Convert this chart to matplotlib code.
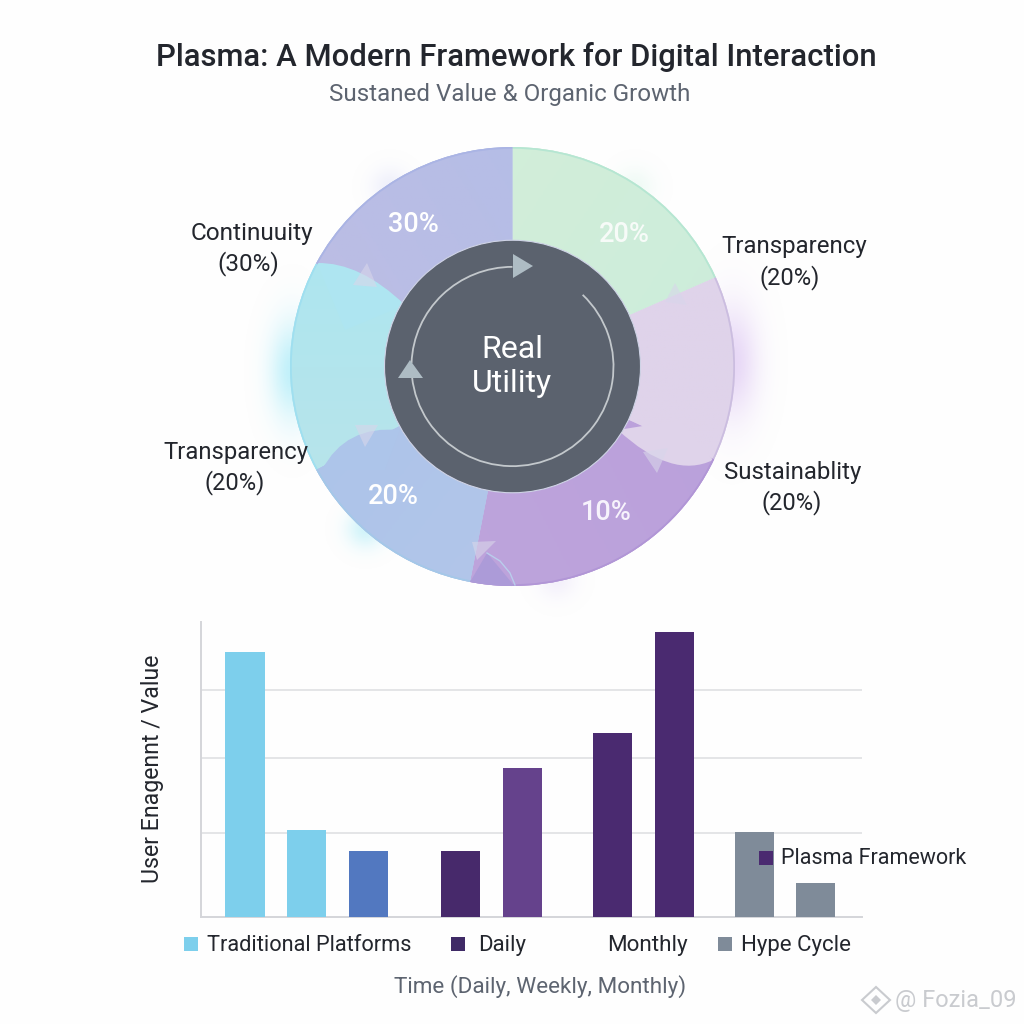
import numpy as np
import matplotlib
matplotlib.use("Agg")
import matplotlib.pyplot as plt
from matplotlib.colors import LinearSegmentedColormap, to_rgb
from matplotlib.patches import Circle, Polygon, Arc, Wedge, PathPatch
from matplotlib.path import Path

plt.rcParams['font.family'] = ['Roboto', 'DejaVu Sans']

# donut data, clockwise from 12 o'clock (slice sizes, degrees)
slice_sizes = [66, 49, 76, 51, 56, 62]
slice_start_colors = ['#c9ecdc', '#dfd3ea', '#bfa6dc', '#a9c4ea', '#a9e6f2', '#b0bde8']
slice_end_colors = ['#d6efd8', '#dfd3ea', '#b99fdb', '#b6c6e9', '#bce4e8', '#c1bde3']
slice_labels = ['20%', '', '10%', '20%', '', '30%']
slice_label_colors = ['#f7fbf8', '#ffffff', '#f7f3fc', '#ffffff', '#ffffff', '#ffffff']

# bar chart data
bar_values = [265, 87, 66, 66, 149, 184, 285, 85, 34]
bar_colors = ['#7dcfec', '#7dcfec', '#5278c0', '#47296b', '#65428c',
              '#4a2a70', '#4a2a70', '#7f8b99', '#7f8b99']
bar_positions = [245, 306.5, 368.5, 460.5, 522, 612, 674.5, 754.5, 815.5]
grid_values = [84, 159, 227]

DARK = '#23262d'
GREY = '#5d6470'

fig = plt.figure(figsize=(10.24, 10.24), dpi=100, facecolor='#fefefe')


def px_axes(left, top, right, bottom, **kw):
    # axes placed with pixel edges of the 1024 image
    return fig.add_axes([left / 1024, 1 - bottom / 1024,
                         (right - left) / 1024, (bottom - top) / 1024], **kw)


# ---- donut ----
# the ring in the picture is a little squashed, so the axes are not square
cx, cy, r_x, r_y, r_in = 512.5, 366.5, 222.5, 219.5, 128
pad = 1.25
ax_d = px_axes(cx - r_x * pad, cy - r_y * pad, cx + r_x * pad, cy + r_y * pad)
ax_d.axis('off')


def u(px, py):
    # image pixel -> unit coords of the donut axes
    return ((px - cx) / r_x, (cy - py) / r_y)


# soft glow behind the ring
gx, gy = np.meshgrid(np.linspace(-pad, pad, 400), np.linspace(-pad, pad, 400))
for (x0, y0), glow_color, s, a in [((-0.99, -0.02), '#8fe6f7', 0.07, 0.55),
                                   ((0.99, 0.02), '#d5b8f0', 0.08, 0.55),
                                   ((-0.66, -0.74), '#9be8f5', 0.06, 0.45),
                                   ((0.20, -0.97), '#d5c8f2', 0.06, 0.25),
                                   ((-0.55, 0.82), '#c4c8f2', 0.06, 0.25),
                                   ((0.55, 0.82), '#c5efdc', 0.06, 0.25)]:
    d2 = (gx - x0) ** 2 + ((gy - y0) * 0.45) ** 2 if abs(x0) > 0.9 else (gx - x0) ** 2 + (gy - y0) ** 2
    rgba = np.zeros(gx.shape + (4,))
    rgba[..., :3] = to_rgb(glow_color)
    rgba[..., 3] = a * np.exp(-d2 / (2 * s ** 2))
    ax_d.imshow(rgba, extent=(-pad, pad, -pad, pad), origin='lower', zorder=1, aspect='auto')

wedges, _ = ax_d.pie(slice_sizes, radius=1, startangle=90, counterclock=False,
                     colors=slice_start_colors,
                     wedgeprops=dict(width=1 - r_in / r_x, linewidth=0, zorder=2))
ax_d.set_aspect('auto')

# paint a soft gradient inside every slice
for w, c0, c1 in zip(wedges, slice_start_colors, slice_end_colors):
    mid = np.deg2rad((w.theta1 + w.theta2) / 2)
    xx, yy = np.meshgrid(np.linspace(-1, 1, 200), np.linspace(-1, 1, 200))
    g = xx * np.cos(mid + np.pi / 2) + yy * np.sin(mid + np.pi / 2)
    cmap = LinearSegmentedColormap.from_list('s', [c0, c1])
    im = ax_d.imshow(g, extent=(-1, 1, -1, 1), origin='lower', cmap=cmap, zorder=2.5, aspect='auto')
    im.set_clip_path(w)

# rounded overlaps where one slice runs over the next
for p0, ctrl, p1, inner, c in [((317, 263), (360, 262), (405, 305), (345, 330), '#aee5f1'),
                               ((713, 460), (672, 480), (618, 430), (680, 420), '#dfd3ea'),
                               ((322, 470), (345, 425), (400, 430), (385, 470), '#adc5ea')]:
    verts = [u(*p0), u(*ctrl), u(*p1), u(*inner), u(*p0)]
    path = Path(verts, [Path.MOVETO, Path.CURVE3, Path.CURVE3, Path.LINETO, Path.CLOSEPOLY])
    ax_d.add_patch(PathPatch(path, fc=c, ec='none', zorder=2.8))

# thin rim of slightly deeper colour
for w, c in zip(wedges, ['#b5e6d2', '#cbbde0', '#b196d6', '#a4c8e8', '#9fdff0', '#aab4e4']):
    ax_d.add_patch(Wedge((0, 0), 1, w.theta1, w.theta2, width=0.008, fc=c, ec='none', zorder=3))

# small tip of the blue segment overlapping the purple one at the bottom
ang = np.deg2rad(np.linspace(-101, -89.5, 12))
tip = np.column_stack([np.cos(ang), np.sin(ang)])
ax_d.add_patch(Polygon(np.vstack([tip, [u(487, 553)]]), fc='#ac9bd8', ec='none', zorder=3))
ax_d.plot(*zip(u(487, 553), u(500, 561), u(510, 573), u(515, 585)), color='#b9cdec', lw=1, zorder=3.1)

# faint arrow heads on the slice borders
for tri in [[u(367, 263), u(353, 285), u(377, 287)],
            [u(675, 283), u(665, 302), u(687, 305)],
            [u(643, 452), u(668, 448), u(657, 473)],
            [u(472, 542), u(496, 541), u(477, 560)],
            [u(355, 425), u(378, 425), u(365, 447)]]:
    ax_d.add_patch(Polygon(tri, fc='#d8d6ea', ec='none', alpha=0.6, zorder=3.2))

# centre disc and its circular arrows
ax_d.add_patch(Circle((0, 0), r_in / r_x, fc='#5b626e', ec='#cfd3e6', lw=0.8, zorder=4))
ring = 101 / r_x
ax_d.add_patch(Arc((0, 0), 2 * ring, 2 * ring, theta1=90, theta2=178, color='#c3c8cc', lw=1.3, zorder=5))
ax_d.add_patch(Arc((0, 0), 2 * ring, 2 * ring, theta1=186, theta2=406, color='#c3c8cc', lw=1.3, zorder=5))
head = '#aebcc4'
ax_d.add_patch(Polygon([u(513, 254), u(513, 278), u(533, 266)], fc=head, ec='none', zorder=6))
ax_d.add_patch(Polygon([u(410, 360), u(398, 378), u(423, 378)], fc=head, ec='none', zorder=6))
ax_d.set_xlim(-pad, pad)
ax_d.set_ylim(-pad, pad)

# ---- bars ----
ax_b = px_axes(201, 622, 862, 917)
ax_b.set_xlim(201, 862)
ax_b.set_ylim(0, 295)
ax_b.set_axisbelow(True)
ax_b.bar(bar_positions, bar_values, width=39, color=bar_colors, zorder=3)
for g in grid_values:
    ax_b.axhline(g, color='#dfe0e3', lw=1.2, zorder=1)
ax_b.set_xticks([])
ax_b.set_yticks([])
ax_b.patch.set_alpha(0)
for side in ['top', 'right']:
    ax_b.spines[side].set_visible(False)
for side in ['left', 'bottom']:
    ax_b.spines[side].set_color('#d4d5d9')
    ax_b.spines[side].set_linewidth(1.4)

# ---- text layer, pixel coordinates ----
ov = fig.add_axes([0, 0, 1, 1], zorder=10)
ov.set_xlim(0, 1024)
ov.set_ylim(1024, 0)
ov.axis('off')
ov.patch.set_alpha(0)


def txt(x, y, s, size, color=DARK, **kw):
    kw.setdefault('ha', 'center')
    kw.setdefault('va', 'center')
    ov.text(x, y, s, fontsize=size, color=color, **kw)


txt(516, 57.5, 'Plasma: A Modern Framework for Digital Interaction', 22.3, weight='medium')
txt(510, 94.5, 'Sustaned Value & Organic Growth', 17.4, GREY)

txt(252, 233.5, 'Continuuity', 17.6)
txt(248, 263.5, '(30%)', 17.5)
txt(794, 246.5, 'Transparency', 17.3)
txt(790, 277.5, '(20%)', 17)
txt(236, 452.5, 'Transparency', 17.2)
txt(235, 482.5, '(20%)', 17)
txt(793, 472.5, 'Sustainablity', 17.3)
txt(792, 502.5, '(20%)', 17)

# percent labels inside the ring
for x, y, s, c in [(624, 234, slice_labels[0], slice_label_colors[0]),
                   (606, 512, slice_labels[2], slice_label_colors[2]),
                   (393, 496, slice_labels[3], slice_label_colors[3]),
                   (413, 224, slice_labels[5], slice_label_colors[5])]:
    txt(x, y, s, 19.5, c, weight='medium')

txt(512, 349.5, 'Real', 23, '#ffffff')
txt(512, 383.5, 'Utility', 23, '#ffffff')

txt(153, 769, 'User Enagennt / Value', 16.7, rotation=90)
txt(540, 986.5, 'Time (Daily, Weekly, Monthly)', 16.2, GREY)

# hand placed legend keys, as in the picture
for x, y, c in [(184, 937, '#7dcfec'), (451, 937, '#3f2a66'),
                (718, 937, '#7f8b99'), (759, 851, '#4a2a70')]:
    ov.add_patch(Polygon([(x, y), (x + 14, y), (x + 14, y + 14), (x, y + 14)], fc=c, ec='none'))
txt(207, 945.5, 'Traditional Platforms', 15.7, ha='left')
txt(478, 945.5, 'Daily', 16, ha='left')
txt(607, 945.5, 'Monthly', 16.2, ha='left')
txt(741, 945.5, 'Hype Cycle', 16, ha='left')
txt(781, 858.5, 'Plasma Framework', 15.5, ha='left')

# watermark
wm = '#c9cbcf'
ov.add_patch(Polygon([(876, 987), (890, 1000), (876, 1013), (862, 1000)], fc='none', ec=wm, lw=1.5))
ov.add_patch(Polygon([(876, 995), (881, 1000), (876, 1005), (871, 1000)], fc=wm, ec='none'))
txt(895, 1000, '@ Fozia_09', 17, wm, ha='left')

fig.savefig('out.png', dpi=100, facecolor=fig.get_facecolor())
